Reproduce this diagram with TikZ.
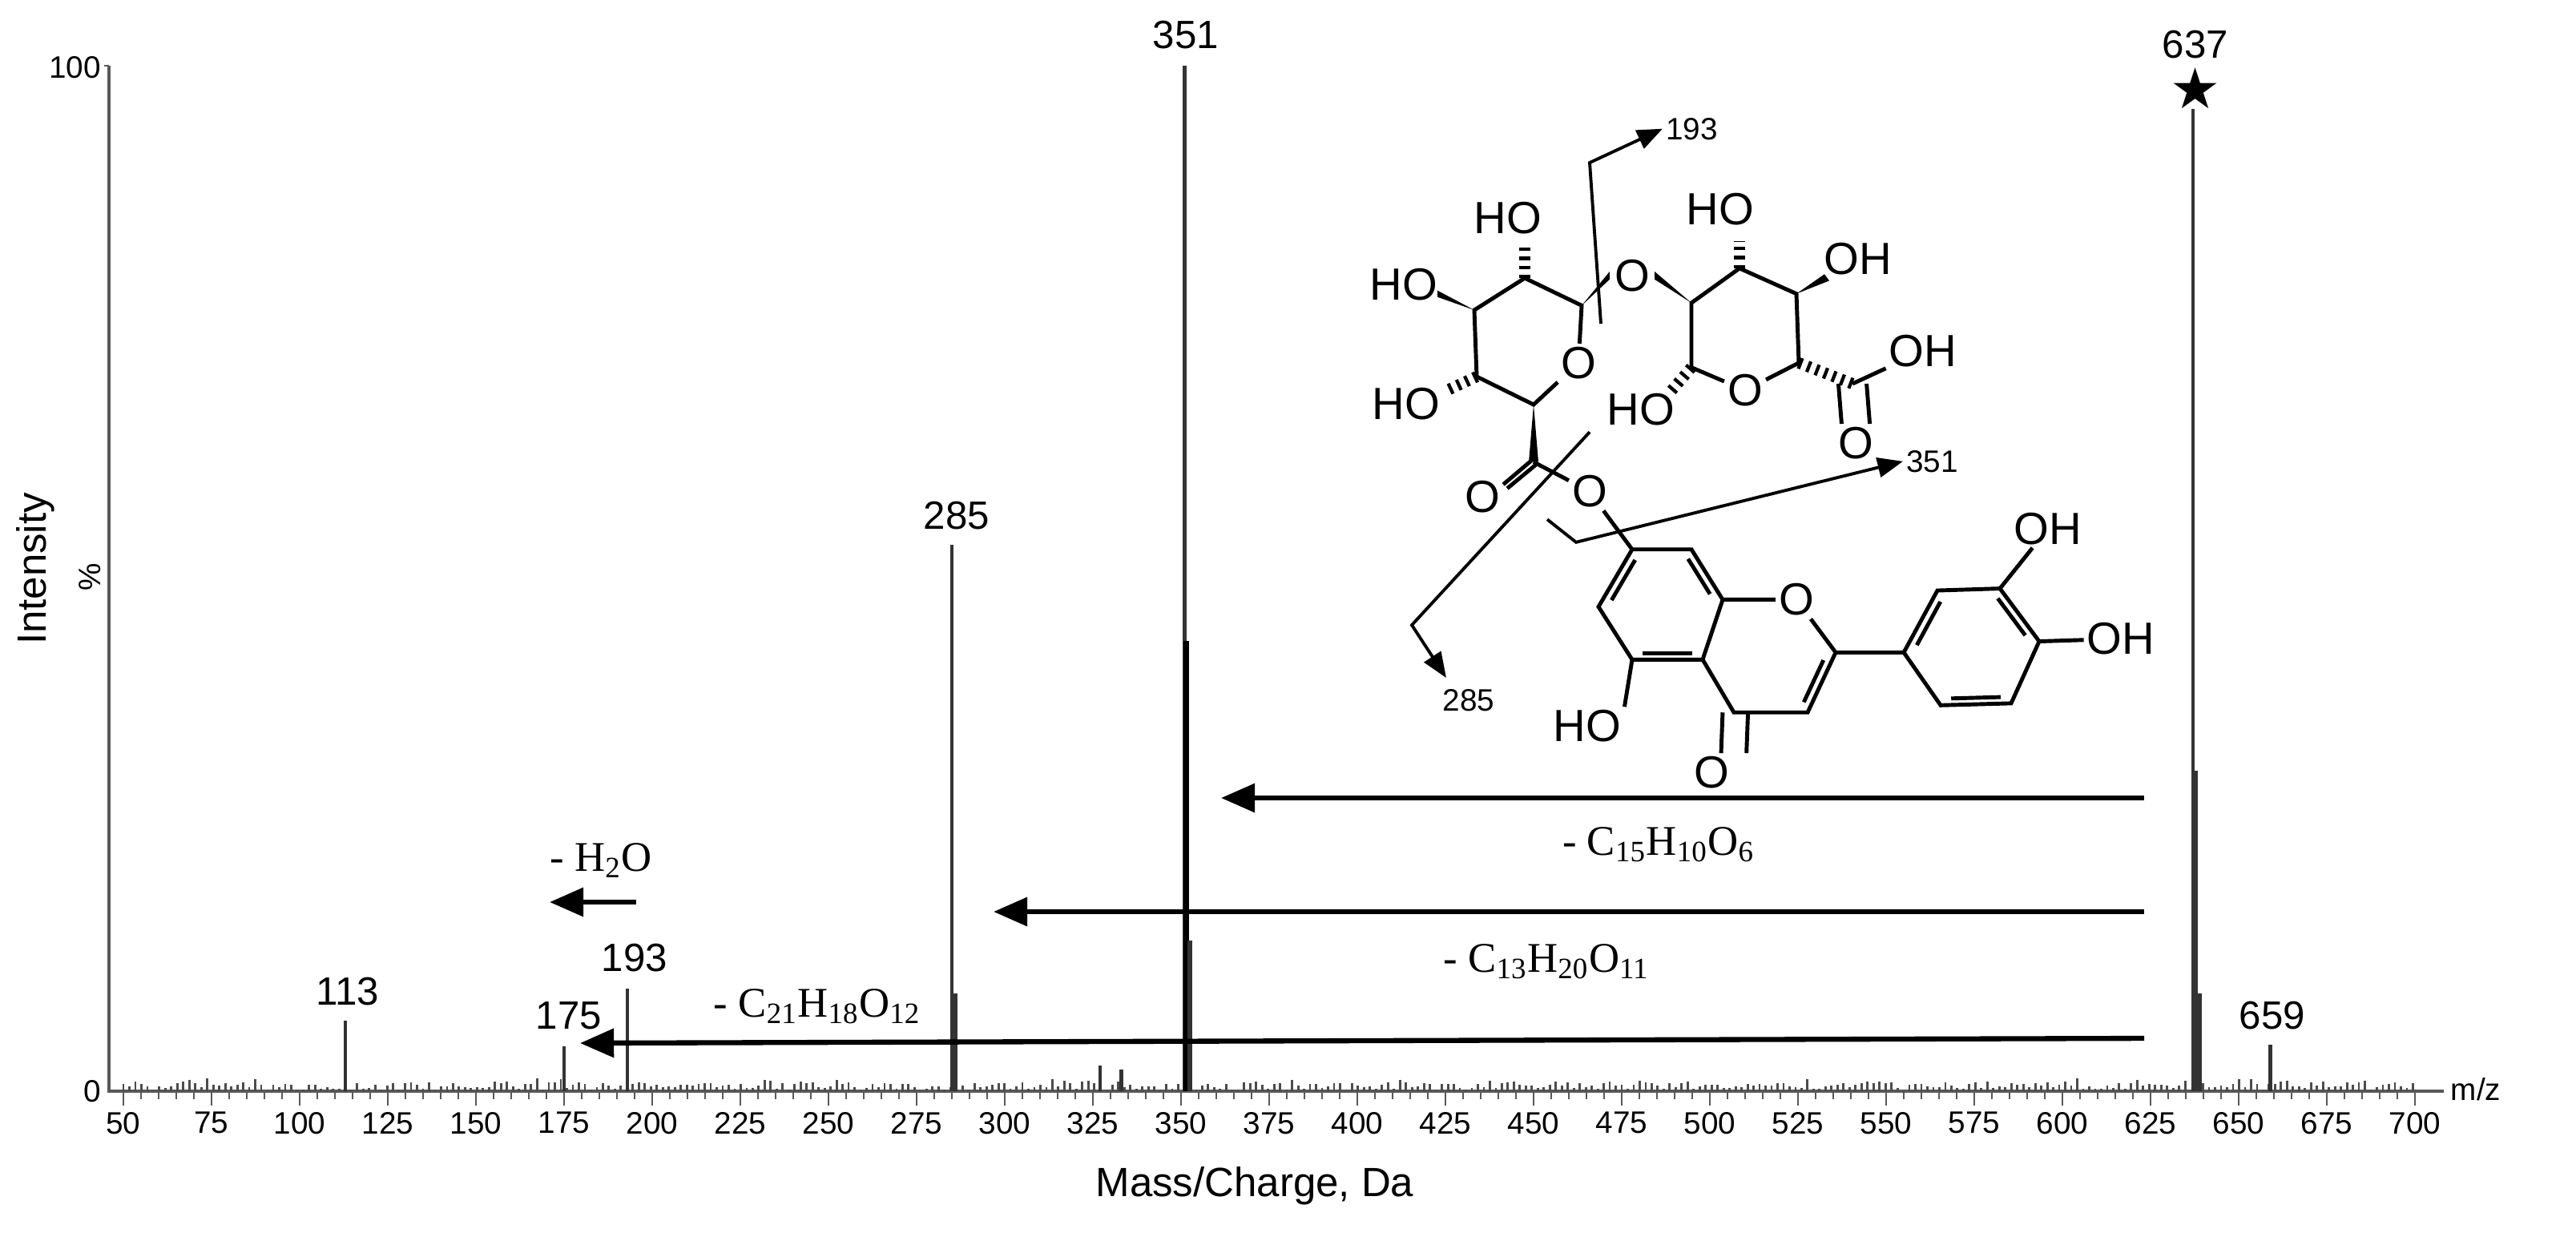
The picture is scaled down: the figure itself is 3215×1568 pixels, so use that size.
\documentclass[tikz,border=0pt]{standalone}
\usepackage{fontspec}
\setmainfont{Liberation Sans}
\newfontfamily\tnr{Liberation Serif}
\newfontfamily\dvs{DejaVu Sans}
\usetikzlibrary{arrows.meta,calc}
\begin{document}
\begin{tikzpicture}[x=0.01cm,y=-0.01cm,
  lbl/.style={font=\fontsize{14}{16}\selectfont,inner sep=1pt},
  tick/.style={font=\fontsize{11}{13}\selectfont,inner sep=1pt},
  atom/.style={font=\fontsize{16}{18}\selectfont,inner sep=1pt},
  frag/.style={font=\fontsize{11}{13}\selectfont,inner sep=1pt},
  formula/.style={font=\tnr\fontsize{15}{17}\selectfont,inner sep=1pt},
  bond/.style={line width=1.4pt},
  hash/.style={line width=4pt,dash pattern=on 1.2pt off 2pt},
  bigarrow/.style={line width=1.8pt,-{Triangle[length=12pt,width=10pt]}},
  fragarrow/.style={line width=1.1pt,-{Triangle[length=9pt,width=7pt]}}]
\def\px#1{(154+(#1-50)*4.4)}
\useasboundingbox (0,0) rectangle (3215,1568);
% axes
\draw[line width=1pt,gray!70!black] (136,82) -- (136,1362) -- (3050,1362);
\draw[gray!70!black] (130,82) -- (136,82);
\node[tick,anchor=east] (y100) at (130,84) {100};
\node[tick,anchor=east] (y0) at (130,1362) {0};
\node[font=\fontsize{14.5}{16}\selectfont,rotate=90] (intens) at (44,710) {Intensity};
\node[tick,rotate=90] (pct) at (112,720) {\%};
\node[tick] (mz) at (3090,1360) {m/z};
\node[font=\fontsize{14.5}{16}\selectfont] (xlab) at (1566,1480) {Mass/Charge, Da};
\foreach \m in {50,55,...,700}{\draw[gray!70!black] ({\px{\m}},1362) -- ++(0,10);}
\foreach \m in {50,75,...,700}{\draw[gray!70!black] ({\px{\m}},1362) -- ++(0,18);
  \node[tick,anchor=north] at ({\px{\m}},1384) {\m};}
% noise
\pgfmathsetseed{7}
\foreach \m in {50,51.7,...,700}{\pgfmathsetmacro\h{rnd*10+rnd*rnd*10}\draw[gray!60!black,line width=0.8pt] ({\px{\m}},1362) -- ++(0,-\h);}
% peaks
\tikzset{pk/.style={line width=1.3pt,gray!40!black}}
\draw[pk] ({\px{351}},1362) -- ({\px{351}},82);
\draw[pk,line width=2pt,black] ({\px{351.4}},1362) -- ({\px{351.4}},800);
\draw[pk,line width=1.6pt] ({\px{352.5}},1362) -- ({\px{352.5}},1174);
\draw[pk] ({\px{637}},1362) -- ({\px{637}},136);
\draw[pk,line width=2pt] ({\px{637.6}},1362) -- ({\px{637.6}},962);
\draw[pk,line width=1.6pt] ({\px{638.8}},1362) -- ({\px{638.8}},1240);
\draw[pk] ({\px{285}},1362) -- ({\px{285}},680);
\draw[pk,line width=1.6pt] ({\px{286}},1362) -- ({\px{286}},1240);
\draw[pk] ({\px{193}},1362) -- ({\px{193}},1234);
\draw[pk] ({\px{175}},1362) -- ({\px{175}},1306);
\draw[pk] ({\px{113}},1362) -- ({\px{113}},1274);
\draw[pk,line width=1.6pt] ({\px{659}},1362) -- ({\px{659}},1304);
\draw[pk] ({\px{327}},1362) -- ({\px{327}},1330);
\draw[pk] ({\px{333}},1362) -- ({\px{333}},1335);
\node[lbl] (l351) at (1480,44) {351};
\node[lbl] (l637) at (2740,56) {637};
\node[font=\dvs\fontsize{20}{20}\selectfont,inner sep=0pt] (star) at (2740,110) {★};
\node[lbl] (l285) at (1194,644) {285};
\node[lbl] (l193) at (792,1196) {193};
\node[lbl] (l113) at (434,1238) {113};
\node[lbl] (l175) at (710,1268) {175};
\node[lbl] (l659) at (2836,1268) {659};
% loss arrows
\coordinate (a1s) at (2676,996); \coordinate (a1e) at (1524,996);
\coordinate (a2s) at (2676,1138); \coordinate (a2e) at (1240,1138);
\coordinate (a3s) at (2676,1296); \coordinate (a3e) at (724,1302);
\coordinate (a4s) at (794,1126); \coordinate (a4e) at (686,1126);
\draw[bigarrow] (a1s) -- (a1e);
\draw[bigarrow] (a2s) -- (a2e);
\draw[bigarrow] (a3s) -- (a3e);
\draw[bigarrow] (a4s) -- (a4e);
\node[formula] (f1) at (2070,1054) {- C\textsubscript{15}H\textsubscript{10}O\textsubscript{6}};
\node[formula] (f2) at (1930,1200) {- C\textsubscript{13}H\textsubscript{20}O\textsubscript{11}};
\node[formula] (f3) at (1020,1256) {- C\textsubscript{21}H\textsubscript{18}O\textsubscript{12}};
\node[formula] (f4) at (750,1074) {- H\textsubscript{2}O};
% ===== structure =====
\begin{scope}[shift={(0,120)},yscale=0.814,shift={(0,-120)}]
% left sugar
\coordinate (C1) at (1974,441); \coordinate (C2) at (1903,399);
\coordinate (C3) at (1840,448); \coordinate (C4) at (1843,550);
\coordinate (C5) at (1914,593);
\node[atom] (Or) at (1970,529) {O};
\draw[bond] (Or) -- (C1) -- (C2) -- (C3) -- (C4) -- (C5) -- (Or);
\node[atom] (HO2) at (1882,307) {HO};
\draw[hash] (C2) -- (1903,345);
\node[atom] (HO3) at (1752,409) {HO};
\fill (C3) -- ($(1794,423)+(0,-5)$) -- ($(1794,423)+(0,5)$) -- cycle;
\node[atom] (HO4) at (1755,592) {HO};
\draw[hash] (C4) -- (1808,570);
% C6 carboxyl ester
\coordinate (C6) at (1914,681);
\fill (C5) -- (1908,681) -- (1920,681) -- cycle;
\node[atom] (O6a) at (1850,734) {O};
\draw[bond] ([shift={(-2,-3)}]C6) -- (O6a.30);
\draw[bond] ([shift={(3,4)}]C6) -- ([shift={(5,6)}]O6a.30);
\node[atom] (O6b) at (1984,726) {O};
\draw[bond] (C6) -- (O6b);
\coordinate (Ck) at (2005,762);
% glycosidic O
\node[atom] (Og) at (2037,395) {O};
\fill (C1) -- ($(Og.west)+(-2,-6)$) -- ($(Og.west)+(-2,6)$) -- cycle;
% right sugar
\coordinate (D4) at (2111,437); \coordinate (D3) at (2171,384);
\coordinate (D2) at (2242,423); \coordinate (D1) at (2245,529);
\coordinate (D5) at (2111,536);
\node[atom] (Or2) at (2178,571) {O};
\fill (D4) -- ($(Og.east)+(2,-6)$) -- ($(Og.east)+(2,6)$) -- cycle;
\draw[bond] (D5) -- (D4) -- (D3) -- (D2) -- (D1) -- (Or2) -- (D5);
\node[atom] (HO3r) at (2147,293) {HO};
\draw[hash] (D3) -- (2171,342);
\node[atom] (OH2r) at (2319,370) {OH};
\fill (D2) -- ($(2280,398)+(-3,-5)$) -- ($(2280,398)+(3,5)$) -- cycle;
\node[atom] (HO5r) at (2048,600) {HO};
\draw[hash] (D5) -- (2085,573);
\coordinate (Cc) at (2312,561);
\draw[hash] (D1) -- (Cc);
\node[atom] (OHc) at (2400,511) {OH};
\draw[bond] (Cc) -- (OHc);
\node[atom] (Oc) at (2316,652) {O};
\draw[bond] ([xshift=-5]Cc) -- ([xshift=-5]Oc.north);
\draw[bond] ([xshift=5]Cc) -- ([xshift=5]Oc.north);
% flavone
\coordinate (A7) at (2037,815); \coordinate (A8) at (2111,815);
\coordinate (A8a) at (2150,892); \coordinate (A4a) at (2125,984);
\coordinate (A5) at (2037,984); \coordinate (A6) at (1995,903);
\draw[bond] (O6b) -- (Ck) -- (A7);
\draw[bond] (A7) -- (A8) -- (A8a) -- (A4a) -- (A5) -- (A6) -- cycle;
\draw[bond] ($(A7)!0.15!(A6)+(10,3)$) -- ($(A6)!0.15!(A7)+(10,3)$);
\draw[bond] ($(A8)!0.15!(A8a)+(-10,3)$) -- ($(A8a)!0.15!(A8)+(-10,3)$);
\draw[bond] ($(A5)!0.15!(A4a)+(0,-10)$) -- ($(A4a)!0.15!(A5)+(0,-10)$);
\node[atom] (O1) at (2242,892) {O};
\coordinate (F2) at (2291,973); \coordinate (F3) at (2256,1065); \coordinate (F4) at (2164,1065);
\draw[bond] (A8a) -- (O1) -- (F2) -- (F3) -- (F4) -- (A4a);
\draw[bond] ($(F2)!0.15!(F3)+(-10,-2)$) -- ($(F3)!0.15!(F2)+(-10,-2)$);
\node[atom] (O4) at (2136,1157) {O};
\draw[bond] ([xshift=-4]F4) -- ([xshift=-4]O4.north east);
\draw[bond] ([xshift=5]F4) -- ([xshift=5]O4.north east);
\node[atom] (HO5) at (1981,1086) {HO};
\draw[bond] (A5) -- (HO5.north east);
% B ring
\coordinate (B1) at (2376,973); \coordinate (B2) at (2418,878);
\coordinate (B3) at (2496,875); \coordinate (B4) at (2545,956);
\coordinate (B5) at (2510,1051); \coordinate (B6) at (2422,1054);
\draw[bond] (F2) -- (B1);
\draw[bond] (B1) -- (B2) -- (B3) -- (B4) -- (B5) -- (B6) -- cycle;
\draw[bond] ($(B3)!0.15!(B4)+(-10,3)$) -- ($(B4)!0.15!(B3)+(-10,3)$);
\draw[bond] ($(B5)!0.15!(B6)+(0,-10)$) -- ($(B6)!0.15!(B5)+(0,-10)$);
\draw[bond] ($(B1)!0.15!(B2)+(10,3)$) -- ($(B2)!0.15!(B1)+(10,3)$);
\node[atom] (OH3p) at (2556,783) {OH};
\draw[bond] (B3) -- (OH3p);
\node[atom] (OH4p) at (2647,952) {OH};
\draw[bond] (B4) -- (OH4p);
% fragmentation arrows
\coordinate (g1) at (1998,469); \coordinate (g2) at (1984,222);
\node[frag,anchor=west] (t193) at (2075,170) {193};
\draw[fragarrow] (g1) -- (g2) -- (t193.west);
\coordinate (h1) at (1984,635); \coordinate (h2) at (1762,931);
\node[frag] (t285) at (1833,1047) {285};
\draw[fragarrow] (h1) -- (h2) -- (1805,1012);
\coordinate (k1) at (1931,769); \coordinate (k2) at (1967,804);
\node[frag,anchor=west] (t351) at (2375,680) {351};
\draw[fragarrow] (k1) -- (k2) -- (t351.west);
\end{scope}
\end{tikzpicture}
\end{document}
